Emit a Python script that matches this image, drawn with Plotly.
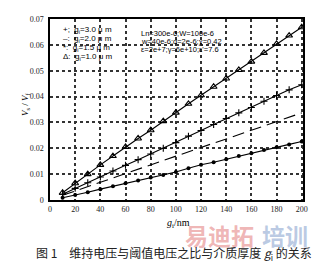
import plotly.graph_objects as go

# ---- data ----
x_vals = [10, 20, 30, 40, 50, 60, 70, 80, 90, 100,
          110, 120, 130, 140, 150, 160, 170, 180, 190, 200]
tri_vals = [0.0028, 0.0065, 0.0100, 0.0136, 0.0170, 0.0205, 0.0238, 0.0270, 0.0305, 0.0338,
            0.0372, 0.0405, 0.0438, 0.0470, 0.0503, 0.0535, 0.0569, 0.0604, 0.0636, 0.0668]
plus_vals = [0.0022, 0.0045, 0.0067, 0.0089, 0.0112, 0.0134, 0.0156, 0.0178, 0.0200, 0.0222,
             0.0247, 0.0269, 0.0292, 0.0315, 0.0337, 0.0358, 0.0382, 0.0404, 0.0426, 0.0446]
dash_vals = [0.0018, 0.0035, 0.0052, 0.0068, 0.0085, 0.0102, 0.0119, 0.0136, 0.0152, 0.0169,
             0.0186, 0.0203, 0.0220, 0.0236, 0.0253, 0.0270, 0.0287, 0.0304, 0.0320, 0.0337]
dot_vals = [0.0009, 0.0019, 0.0030, 0.0042, 0.0053, 0.0065, 0.0075, 0.0087, 0.0097, 0.0108,
            0.0123, 0.0136, 0.0146, 0.0158, 0.0170, 0.0181, 0.0193, 0.0204, 0.0215, 0.0226]
x_ticks = [0, 20, 40, 60, 80, 100, 120, 140, 160, 180, 200]
y_ticks = [0, 0.01, 0.02, 0.03, 0.04, 0.05, 0.06, 0.07]
y_tick_text = ["0", "0.01", "0.02", "0.03", "0.04", "0.05", "0.06", "0.07"]
legend_lines = ["+;  g<sub>i</sub>=3.0 μ m", "–:  g<sub>i</sub>=2.0 μ m",
                "*:  g<sub>i</sub>=1.5 μ m", "Δ:  g<sub>i</sub>=1.0 μ m"]
param_lines = ["Ln=300e-6;W=100e-6", "w=40e-6;d=2e-6;χ=0.42", "ε=2e+7;γ=6e+10;ε'=7.6"]

L, R, T, B = 50, 18, 19, 65
W, H = 321, 265
PW, PH = W - L - R, H - T - B
X_MAX, Y_MAX = 201, 0.07


def px(xp):
    return (xp - L) / PW


def py(yp):
    return (H - B - yp) / PH


fig = go.Figure()

line = dict(color="black", width=1.1)
fig.add_trace(go.Scatter(x=x_vals, y=tri_vals, mode="lines+markers", line=line,
                         marker=dict(symbol="triangle-up-open", size=6, color="black",
                                     line=dict(width=1.1, color="black"))))
fig.add_trace(go.Scatter(x=x_vals, y=plus_vals, mode="lines+markers", line=line,
                         marker=dict(symbol="cross-thin-open", size=5,
                                     line=dict(width=1.1, color="black"))))
fig.add_trace(go.Scatter(x=x_vals, y=dash_vals, mode="lines",
                         line=dict(color="black", width=1.1, dash="12px,6px")))
fig.add_trace(go.Scatter(x=x_vals, y=dot_vals, mode="lines+markers", line=line,
                         marker=dict(symbol="circle", size=4, color="black")))

# grid from the axes themselves (plotly's gridlines)
ax_common = dict(showline=True, linecolor="black", linewidth=1.5, mirror=True,
                 showgrid=True, gridcolor="#333333", gridwidth=1.5, griddash="dot",
                 zeroline=False, ticks="",
                 tickfont=dict(family="Liberation Serif", size=8, color="#222"))
fig.update_xaxes(range=[0, X_MAX], tickvals=x_ticks, ticklabelstandoff=1, **ax_common)
fig.update_yaxes(range=[0, Y_MAX], tickvals=y_ticks, ticktext=y_tick_text,
                 ticklabelstandoff=3, **ax_common)

ann = []
sans = dict(family="Liberation Sans", size=8, color="black")
for i, t in enumerate(legend_lines):
    ann.append(dict(x=px(61), y=py([30, 39, 47.5, 57][i]), xref="paper", yref="paper",
                    text=t, showarrow=False, xanchor="left", yanchor="middle", font=sans))
psans = dict(family="Liberation Sans", size=7.5, color="black")
for i, t in enumerate(param_lines):
    ann.append(dict(x=px(139), y=py(33 + 8 * i), xref="paper", yref="paper",
                    text=t, showarrow=False, xanchor="left", yanchor="middle", font=psans))
ann.append(dict(x=px(25), y=py(105), xref="paper", yref="paper",
                text="<i>V</i><sub>s</sub> / <i>V</i><sub>f</sub>", textangle=-90,
                xanchor="center", yanchor="middle",
                showarrow=False, font=dict(family="Liberation Serif", size=9, color="black")))
ann.append(dict(x=px(178), y=py(223), xref="paper", yref="paper",
                text="<i>g</i><sub>i</sub>/nm", showarrow=False,
                xanchor="center", yanchor="middle",
                font=dict(family="Liberation Serif", size=10, color="black")))
# watermark
ann.append(dict(x=px(219), y=py(235), xref="paper", yref="paper", text="<b>易迪拓</b>",
                xanchor="center", yanchor="middle",
                showarrow=False, font=dict(family="Noto Sans CJK SC", size=23, color="rgba(226,120,120,0.55)")))
ann.append(dict(x=px(285), y=py(235), xref="paper", yref="paper", text="<b>培训</b>",
                xanchor="center", yanchor="middle",
                showarrow=False, font=dict(family="Noto Sans CJK SC", size=23, color="rgba(120,150,200,0.5)")))
ann.append(dict(x=px(174), y=py(253), xref="paper", yref="paper",
                text="图 1　维持电压与阈值电压之比与介质厚度 <i>g</i><sub>i</sub> 的关系",
                xanchor="center", yanchor="middle",
                showarrow=False, font=dict(family="Noto Sans CJK SC", size=12, color="#222")))

fig.update_layout(template="none", width=W, height=H, margin=dict(l=L, r=R, t=T, b=B),
                  paper_bgcolor="white", plot_bgcolor="white", showlegend=False,
                  annotations=ann)
fig.write_html("out.html")
